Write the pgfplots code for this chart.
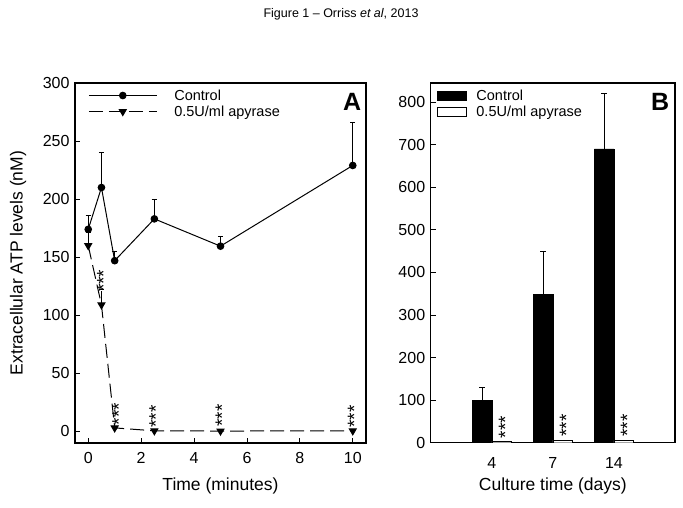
\documentclass[border=0pt]{standalone}
\usepackage{fontspec}
\setmainfont{Liberation Sans}
\usepackage{pgfplots}
\pgfplotsset{compat=1.18}

\tikzset{stars/.style={rotate=90, anchor=west, inner sep=0pt, font=\fontsize{19}{20}\selectfont}}

\pgfplotsset{
  panel/.style={
    scale only axis,
    anchor=south west,
    axis line style={line width=1.2pt},
    tick style={line width=0.9pt, black},
    tick align=inside,
    major tick length=5pt,
    xtick pos=left,
    ytick pos=left,
    tick label style={font=\fontsize{16}{18}\selectfont},
    xticklabel style={yshift=-6pt},
    yticklabel style={xshift=-2pt},
    label style={font=\fontsize{17.5}{19}\selectfont},
    /pgf/number format/assume math mode=true,
    legend cell align=left,
    legend style={draw=none, fill=none, font=\fontsize{14.5}{16}\selectfont,
      inner sep=0pt, row sep=0pt},
    error bars/error bar style={line width=0.9pt},
    error bars/error mark options={black, rotate=90, mark size=2.7pt, line width=0.9pt},
  },
  /pgfplots/ybar legend/.style={
    /pgfplots/legend image code/.code={%
      \draw[##1,/tikz/.cd] (0pt,-4.5pt) rectangle (29pt,4.5pt);},
  },
}

\begin{document}
\begin{tikzpicture}
\path[use as bounding box] (0pt,0pt) rectangle (683pt,507pt);
\node[font=\fontsize{12.5}{14}\selectfont] at (341pt,493pt) {Figure 1 -- Orriss \textit{et al}, 2013};

% panel A: time course
\begin{axis}[panel,
  at={(75pt,64pt)}, width=291pt, height=360pt,
  xmin=-0.5, xmax=10.5, ymin=-10, ymax=300,
  xtick={0,2,...,10}, ytick={0,50,...,300},
  xlabel={Time (minutes)},
  ylabel={Extracellular ATP levels (nM)},
  xlabel style={at={(rel axis cs:0.5,0)}, anchor=center, yshift=-43pt},
  ylabel style={at={(rel axis cs:0,0.5)}, anchor=center, yshift=57pt},
  legend style={at={(0.045,0.988)}, anchor=north west, column sep=15pt},
  legend image code/.code={%
    \draw[mark repeat=2,mark phase=2,#1] plot coordinates {(0pt,0pt) (34pt,0pt) (68pt,0pt)};},
]
\addplot[black, line width=1pt, mark=*, mark size=3.3pt,
  error bars/.cd, y dir=plus, y explicit]
  coordinates {(0,174) +- (0,12) (0.5,210) +- (0,30) (1,147) +- (0,8)
               (2.5,183) +- (0,17) (5,159.5) +- (0,8.5) (10,229) +- (0,37)};
\addlegendentry{Control}
\addplot[black, line width=1pt, dash pattern=on 14pt off 6pt,
  mark=triangle*, mark size=4pt, mark options={solid, rotate=180},
  error bars/.cd, y dir=plus, y explicit]
  coordinates {(0,160) +- (0,11) (0.5,109) +- (0,13) (1,3) +- (0,0)
               (2.5,0.5) +- (0,0) (5,0.3) +- (0,0) (10,0.5) +- (0,0)};
\addlegendentry{0.5U/ml apyrase}
\node[stars] at (axis cs:0.58,120) {***};
\node[stars] at (axis cs:1.16,5) {***};
\node[stars] at (axis cs:2.56,3) {***};
\node[stars] at (axis cs:5.06,4) {***};
\node[stars] at (axis cs:10.06,3) {***};
\node[font=\fontsize{25}{26}\bfseries] at (rel axis cs:0.952,0.947) {A};
\end{axis}

% panel B: culture time
\begin{axis}[panel,
  at={(430.7pt,64.3pt)}, width=244.3pt, height=359.7pt,
  ybar, bar width=0.32,
  xmin=-1, xmax=3, ymin=0, ymax=845,
  xtick={0,1,2}, xticklabels={4,7,14}, xtick style={draw=none},
  ytick={0,100,...,800},
  xlabel={Culture time (days)},
  xlabel style={at={(rel axis cs:0.5,0)}, anchor=center, yshift=-43pt},
  legend style={at={(0.025,0.988)}, anchor=north west, column sep=8pt},
]
\addplot[fill=black, draw=black, bar shift=-0.16,
  error bars/.cd, y dir=plus, y explicit]
  coordinates {(0,100) +- (0,30) (1,348) +- (0,102) (2,690) +- (0,130)};
\addlegendentry{Control}
\addplot[fill=white, draw=black, bar shift=0.16]
  coordinates {(0,3) (1,6) (2,5)};
\addlegendentry{0.5U/ml apyrase}
\node[stars] at (axis cs:0.22,10) {***};
\node[stars] at (axis cs:1.22,14) {***};
\node[stars] at (axis cs:2.22,14) {***};
\node[font=\fontsize{25}{26}\bfseries] at (rel axis cs:0.939,0.947) {B};
\end{axis}
\end{tikzpicture}
\end{document}
